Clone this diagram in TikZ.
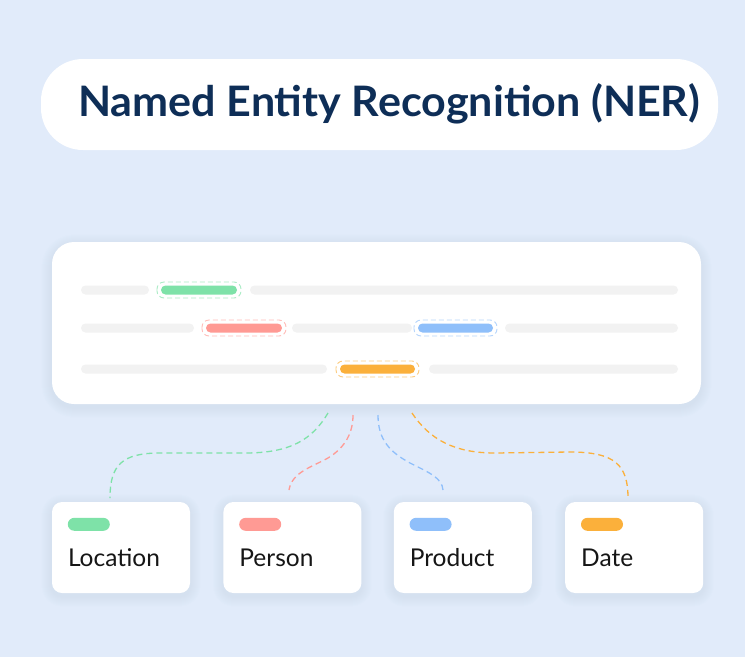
\documentclass[tikz,border=0pt]{standalone}
\usepackage{fontspec}
\setmainfont{Lato}
\newfontfamily\headfont{Lato}[FakeStretch=1.025]
\usetikzlibrary{positioning}

\definecolor{bgblue}{HTML}{E1EBFA}
\definecolor{navy}{HTML}{0E2E57}
\definecolor{ink}{HTML}{161616}
\definecolor{bargray}{HTML}{F2F2F2}
\definecolor{shadowblue}{HTML}{9FB4DC}
\definecolor{locgreen}{HTML}{7EE2A8}
\definecolor{perred}{HTML}{FF9A94}
\definecolor{problue}{HTML}{8FBFFA}
\definecolor{datorange}{HTML}{FBB03B}

\pgfdeclarelayer{bg}
\pgfdeclarelayer{shade}
\pgfsetlayers{bg,shade,main}

\tikzset{
  pill/.style={fill=white, rounded corners=42pt, minimum width=677pt, minimum height=91pt, inner sep=0pt},
  titletext/.style={anchor=base west, inner sep=0pt, text=navy, font=\headfont\fontsize{42}{42}\selectfont\bfseries},
  sheet/.style={fill=white, rounded corners=22pt, minimum width=649pt, minimum height=162pt, inner sep=0pt},
  card/.style={fill=white, rounded corners=10pt, minimum width=138pt, minimum height=91pt, inner sep=0pt},
  cardtext/.style={anchor=base west, inner sep=0pt, text=ink, font=\fontsize{24.5}{24.5}\selectfont},
  bar/.style={fill=bargray, rounded corners=4.5pt},
  link/.style={dash pattern=on 6pt off 4pt, line width=1.3pt},
}

% soft shadow under a node: name, corner radius
\newcommand{\lift}[2]{%
  \begin{pgfonlayer}{shade}
    \foreach \s in {1,...,10}
      \fill[shadowblue, opacity=0.017, rounded corners=#2+\s]
        ([xshift=-\s pt, yshift=\s pt-3pt]#1.north west) rectangle
        ([xshift=\s pt, yshift=-\s pt-3pt]#1.south east);
  \end{pgfonlayer}}
% grey word: x1, x2, y
\newcommand{\graybar}[3]{\fill[bar] (#1,#3-4.5) rectangle (#2,#3+4.5);}
% tagged word: x1, x2, y, colour
\newcommand{\entity}[4]{%
  \fill[#4, rounded corners=4.5pt] (#1,#3-4.5) rectangle (#2,#3+4.5);
  \draw[#4!65!white, dash pattern=on 5pt off 3pt, line width=0.9pt, rounded corners=7pt]
    (#1-4,#3-8) rectangle (#2+4,#3+8);}

\begin{document}
\begin{tikzpicture}[x=1pt, y=-1pt]
  \begin{pgfonlayer}{bg}
    \fill[bgblue] (0,0) rectangle (745,657);
  \end{pgfonlayer}
  \useasboundingbox (0,0) rectangle (745,657);

  % title
  \node[pill] (title) at (379.5,104.5) {};
  \node[titletext] (titlename) at (78,116) {Named Entity Recognition (NER)};

  % sentence
  \node[sheet] (sentence) at (376.5,323) {};
  \lift{sentence}{22}
  \graybar{81}{149}{290}
  \entity{161}{237}{290}{locgreen}
  \graybar{250}{678}{290}
  \graybar{81}{194}{328}
  \entity{206}{282}{328}{perred}
  \graybar{292}{412}{328}
  \entity{418}{493}{328}{problue}
  \graybar{505}{678}{328}
  \graybar{81}{327}{369}
  \entity{340}{415}{369}{datorange}
  \graybar{429}{678}{369}

  % entity types
  \node[card] (loc) at (121,547.5) {};
  \node[card, right=33pt of loc] (per) {};
  \node[card, right=32pt of per] (pro) {};
  \node[card, right=33pt of pro] (dat) {};
  \lift{loc}{10}
  \lift{per}{10}
  \lift{pro}{10}
  \lift{dat}{10}
  \fill[locgreen, rounded corners=6.5pt] ([xshift=16pt, yshift=-16pt]loc.north west) rectangle ++(42,13);
  \fill[perred, rounded corners=6.5pt] ([xshift=16pt, yshift=-16pt]per.north west) rectangle ++(42,13);
  \fill[problue, rounded corners=6.5pt] ([xshift=16pt, yshift=-16pt]pro.north west) rectangle ++(42,13);
  \fill[datorange, rounded corners=6.5pt] ([xshift=16pt, yshift=-16pt]dat.north west) rectangle ++(42,13);
  \node[cardtext] (loctext) at ([xshift=16pt, yshift=-65pt]loc.north west) {Location};
  \node[cardtext] (pertext) at ([xshift=16pt, yshift=-65pt]per.north west) {Person};
  \node[cardtext] (protext) at ([xshift=16pt, yshift=-65pt]pro.north west) {Product};
  \node[cardtext] (dattext) at ([xshift=16pt, yshift=-65pt]dat.north west) {Date};

  % links
  \coordinate (locfrom) at (328,413);
  \coordinate (perfrom) at (353,415);
  \coordinate (profrom) at (378,415);
  \coordinate (datfrom) at (412,413);
  \coordinate (locto) at (110,498);
  \coordinate (perto) at (289,490);
  \coordinate (proto) at (443,490);
  \coordinate (datto) at (628,498);
  \draw[link, locgreen] (locfrom) .. controls (312,440) and (290,453) .. (245,453)
    -- (160,453) .. controls (122,453) and (110,465) .. (locto);
  \draw[link, perred] (perfrom) .. controls (353,432) and (346,447) .. (328,458)
    .. controls (312,467) and (292,472) .. (perto);
  \draw[link, problue] (profrom) .. controls (378,440) and (390,452) .. (410,463)
    .. controls (430,473) and (442,478) .. (proto);
  \draw[link, datorange] (datfrom) .. controls (430,440) and (455,453) .. (495,453)
    -- (570,452) .. controls (615,452) and (628,465) .. (datto);
\end{tikzpicture}
\end{document}
